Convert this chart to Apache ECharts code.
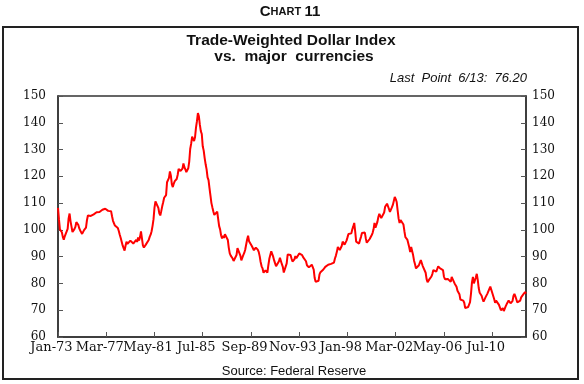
<!DOCTYPE html>
<html><head><meta charset="utf-8">
<script src="https://cdn.jsdelivr.net/npm/echarts@6/dist/echarts.min.js"></script>
<style>html,body{margin:0;padding:0;background:#fff}#c{width:584px;height:384px}</style>
</head><body><div id="c"></div>
<script>
// Monthly Trade-Weighted Dollar Index (major currencies)
const v1973 = [108.2, 103.9, 100.2, 100.6, 99.1, 97.4, 96.3, 97.6, 97.2, 97.1, 100.4, 104.3];
const v1974 = [106.1, 103.2, 101.2, 99.2, 99.0, 100.3, 101.1, 102.9, 103.3, 101.9, 100.6, 99.8];
const v1975 = [99.1, 98.5, 98.8, 99.9, 99.4, 100.8, 103.6, 105.4, 106.0, 105.6, 105.2, 105.7];
const v1976 = [105.4, 105.8, 106.5, 106.2, 106.6, 106.9, 107.1, 106.7, 106.3, 106.9, 107.5, 108.0];
const v1977 = [107.7, 107.9, 107.6, 107.3, 107.1, 107.4, 106.8, 107.0, 105.1, 103.4, 102.8, 101.6];
const v1978 = [101.3, 100.9, 100.7, 99.6, 98.2, 97.0, 95.6, 94.2, 93.2, 92.3, 94.1, 95.6];
const v1979 = [94.8, 95.3, 95.0, 96.0, 96.5, 95.7, 94.9, 95.4, 94.6, 96.3, 95.5, 97.2];
const v1980 = [96.0, 97.3, 99.4, 96.8, 94.2, 93.4, 93.6, 94.5, 93.8, 94.6, 96.2, 97.4];
const v1981 = [98.2, 99.5, 101.5, 104.0, 108.3, 110.6, 110.0, 111.2, 108.2, 106.2, 105.4, 107.0];
const v1982 = [108.8, 110.3, 112.0, 111.3, 113.0, 117.8, 118.5, 119.4, 121.8, 120.2, 117.0, 116.0];
const v1983 = [117.3, 118.2, 118.6, 119.0, 120.5, 122.8, 123.2, 122.0, 121.6, 122.9, 124.8, 123.4];
const v1984 = [122.6, 121.6, 121.2, 123.0, 125.5, 130.2, 132.2, 134.8, 134.0, 133.2, 134.6, 138.2];
const v1985 = [140.6, 143.6, 142.4, 139.3, 136.9, 135.8, 131.2, 129.6, 126.8, 124.5, 122.6, 119.6];
const v1986 = [118.6, 115.6, 112.8, 110.0, 108.4, 106.9, 105.6, 104.9, 105.8, 106.8, 104.0, 101.4];
const v1987 = [100.2, 98.0, 96.8, 97.8, 97.0, 98.4, 99.0, 98.2, 96.2, 93.3, 91.2, 90.4];
const v1988 = [89.8, 89.3, 88.4, 88.2, 88.9, 90.6, 93.2, 93.7, 93.0, 90.4, 88.6, 88.8];
const v1989 = [90.6, 91.4, 92.6, 93.0, 96.4, 97.8, 95.8, 96.3, 95.5, 93.9, 93.2, 92.4];
const v1990 = [92.8, 93.4, 93.7, 92.6, 91.8, 90.2, 88.0, 86.4, 85.6, 84.0, 84.4, 84.9];
const v1991 = [84.3, 84.0, 86.8, 89.2, 90.6, 92.0, 91.8, 90.0, 88.6, 87.5, 86.4, 85.7];
const v1992 = [86.6, 88.3, 89.6, 88.4, 87.2, 86.2, 84.1, 83.6, 84.4, 87.5, 90.8, 91.0];
const v1993 = [91.4, 90.6, 89.3, 88.2, 88.7, 89.0, 90.2, 89.4, 89.6, 90.0, 91.2, 91.6];
const v1994 = [91.8, 90.6, 89.8, 89.4, 89.7, 88.3, 86.8, 86.6, 86.0, 85.6, 86.4, 87.0];
const v1995 = [86.8, 85.2, 82.0, 80.6, 81.2, 80.8, 81.0, 83.4, 84.2, 84.5, 84.8, 85.2];
const v1996 = [85.7, 86.2, 86.0, 86.6, 87.0, 87.4, 87.6, 87.3, 87.6, 87.1, 87.8, 89.3];
const v1997 = [90.4, 91.8, 93.6, 94.3, 92.5, 92.9, 94.0, 95.6, 95.2, 94.5, 94.8, 96.0];
const v1998 = [97.2, 98.5, 98.1, 98.4, 98.7, 100.2, 101.3, 102.6, 99.4, 95.6, 95.8, 95.3];
const v1999 = [94.9, 96.2, 97.4, 98.8, 98.4, 99.4, 99.0, 96.8, 95.2, 95.0, 95.8, 96.6];
const v2000 = [96.4, 98.0, 98.8, 100.2, 102.6, 100.8, 101.2, 103.0, 104.8, 106.0, 106.3, 104.4];
const v2001 = [103.8, 104.6, 106.5, 108.6, 109.3, 109.8, 109.7, 107.8, 106.7, 107.4, 108.4, 109.3];
const v2002 = [110.8, 112.3, 111.5, 110.4, 107.2, 104.2, 102.6, 103.7, 103.7, 104.0, 102.0, 99.5];
const v2003 = [97.3, 96.6, 96.4, 96.8, 93.5, 91.7, 93.6, 93.4, 90.6, 88.5, 87.2, 85.6];
const v2004 = [85.0, 85.4, 86.8, 87.8, 88.7, 87.6, 86.5, 86.8, 86.4, 84.0, 81.6, 80.5];
const v2005 = [81.2, 81.6, 81.3, 82.6, 83.6, 85.0, 85.6, 84.8, 84.4, 85.4, 86.4, 86.2];
const v2006 = [85.6, 86.0, 85.6, 85.0, 82.5, 81.6, 81.8, 81.2, 81.7, 82.3, 81.6, 80.6];
const v2007 = [82.4, 81.6, 81.2, 80.0, 79.4, 78.8, 77.3, 77.8, 76.0, 74.0, 73.3, 73.8];
const v2008 = [73.6, 72.8, 70.8, 70.6, 71.3, 71.2, 70.8, 73.0, 76.2, 80.4, 82.4, 80.0];
const v2009 = [80.5, 82.2, 83.6, 81.3, 78.3, 76.5, 76.4, 75.4, 74.2, 73.2, 73.0, 74.8];
const v2010 = [75.2, 76.2, 75.8, 76.4, 78.8, 79.2, 76.5, 76.4, 74.2, 72.8, 73.6, 74.0];
const v2011 = [73.4, 72.0, 71.6, 70.0, 70.4, 70.8, 69.7, 69.3, 71.5, 72.3, 72.6, 73.6];
const v2012 = [73.0, 72.6, 72.8, 73.4, 75.3, 76.1, 75.2, 74.6, 72.9, 73.2, 73.4, 73.6];
const v2013 = [74.8, 75.0, 75.8, 76.4, 76.8, 76.2];

const yearBlocks = [v1973,v1974,v1975,v1976,v1977,v1978,v1979,v1980,v1981,v1982,v1983,v1984,v1985,
  v1986,v1987,v1988,v1989,v1990,v1991,v1992,v1993,v1994,v1995,v1996,v1997,v1998,v1999,v2000,
  v2001,v2002,v2003,v2004,v2005,v2006,v2007,v2008,v2009,v2010,v2011,v2012,v2013];
const firstYear = 1973;
const monthNames = ['Jan','Feb','Mar','Apr','May','Jun','Jul','Aug','Sep','Oct','Nov','Dec'];
const tickLabels = ['Jan-73','Mar-77','May-81','Jul-85','Sep-89','Nov-93','Jan-98','Mar-02','May-06','Jul-10'];
const yTicks = [60, 70, 80, 90, 100, 110, 120, 130, 140, 150];

const categories = [];
const values = [];
yearBlocks.forEach((blk, yi) => {
  blk.forEach((v, mi) => {
    const yy = String((firstYear + yi) % 100).padStart(2, '0');
    categories.push(monthNames[mi] + '-' + yy);
    values.push(v);
  });
});

const chart = echarts.init(document.getElementById('c'), null, {renderer: 'canvas'});
const serif = 'DejaVu Serif';
const sans = 'Liberation Sans, Arial, sans-serif';
const yAxisCommon = {
  type: 'value', min: yTicks[0], max: yTicks[yTicks.length - 1], interval: 10,
  splitLine: {show: false},
  axisLine: {show: true, lineStyle: {color: '#333', width: 1.5}},
  axisTick: {show: true, inside: true, length: 5, lineStyle: {color: '#555', width: 1}}
};
chart.setOption({
  animation: false,
  backgroundColor: '#fff',
  grid: {left: 58, right: 58, top: 96, bottom: 47, show: true, borderColor: '#333', borderWidth: 1.5, backgroundColor: '#fff'},
  xAxis: {
    type: 'category', data: categories, boundaryGap: false,
    axisLine: {show: true, lineStyle: {color: '#333', width: 1.5}},
    axisTick: {show: true, inside: true, length: 5, interval: 49, lineStyle: {color: '#555', width: 1}},
    axisLabel: {
      interval: 49, margin: 4, fontFamily: serif, fontSize: 13, color: '#111',
      padding: [0, 13, 0, 0],
      formatter: (v) => tickLabels.indexOf(v) >= 0 ? v : ''
    },
    splitLine: {show: false}
  },
  yAxis: [
    Object.assign({}, yAxisCommon, {position: 'left',
      axisLabel: {margin: 12, fontFamily: serif, fontSize: 12, color: '#111', padding: [0, 0, 6, 0]}}),
    Object.assign({}, yAxisCommon, {position: 'right',
      axisLabel: {margin: 6, fontFamily: serif, fontSize: 12, color: '#111', padding: [0, 0, 6, 0]}})
  ],
  series: [{
    type: 'line', data: values, yAxisIndex: 0, showSymbol: false, symbol: 'none',
    lineStyle: {color: '#ff0000', width: 2}, silent: true
  }],
  graphic: [
    {type: 'rect', shape: {x: 3, y: 27, width: 575, height: 352}, style: {fill: 'none', stroke: '#222', lineWidth: 2}, silent: true},
    {type: 'text', x: 290, y: 12, style: {
      text: '{a|C}{b|HART} {a|11}', align: 'center', verticalAlign: 'middle',
      rich: {a: {fontFamily: sans, fontWeight: 'bold', fontSize: 15, fill: '#111'},
             b: {fontFamily: sans, fontWeight: 'bold', fontSize: 11, fill: '#111'}}}},
    {type: 'text', x: 291, y: 41, style: {text: 'Trade-Weighted Dollar Index', align: 'center', verticalAlign: 'middle',
      fontFamily: sans, fontWeight: 'bold', fontSize: 15.5, fill: '#111'}},
    {type: 'text', x: 294, y: 57, style: {text: 'vs.  major  currencies', align: 'center', verticalAlign: 'middle',
      fontFamily: sans, fontWeight: 'bold', fontSize: 15.5, fill: '#111'}},
    {type: 'text', x: 527, y: 78, style: {text: 'Last  Point  6/13:  76.20', align: 'right', verticalAlign: 'middle',
      fontFamily: sans, fontStyle: 'italic', fontSize: 13, fill: '#111'}},
    {type: 'text', x: 294, y: 371, style: {text: 'Source: Federal Reserve', align: 'center', verticalAlign: 'middle',
      fontFamily: sans, fontSize: 13, fill: '#111'}}
  ]
});
</script>
</body></html>
